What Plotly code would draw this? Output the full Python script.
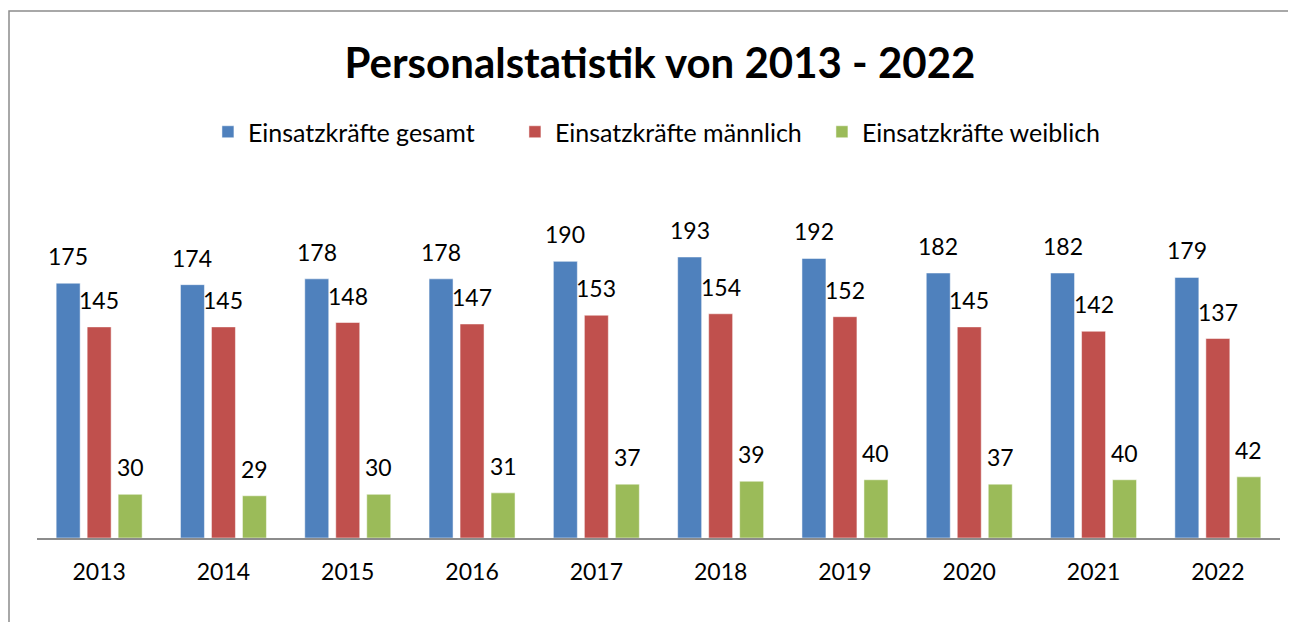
import plotly.graph_objects as go

# Data
years = ["2013", "2014", "2015", "2016", "2017", "2018", "2019", "2020", "2021", "2022"]
gesamt = [175, 174, 178, 178, 190, 193, 192, 182, 182, 179]
maennlich = [145, 145, 148, 147, 153, 154, 152, 145, 142, 137]
weiblich = [30, 29, 30, 31, 37, 39, 40, 37, 40, 42]

series = [
    ("Einsatzkräfte gesamt", gesamt, "#4F81BD"),
    ("Einsatzkräfte männlich", maennlich, "#C0504D"),
    ("Einsatzkräfte weiblich", weiblich, "#9BBB59"),
]

FONT = "Lato, Calibri, sans-serif"
# page body has an 8px margin, so the figure is 16px smaller than the window
W, H = 1280, 614
ML, MR, MT, MB = 29, 8, 166, 84
BARGAP = 0.252

fig = go.Figure()
for name, vals, color in series:
    fig.add_trace(go.Bar(
        x=years, y=vals, name=name,
        marker=dict(color=color, line=dict(color="rgba(255,255,255,0.5)", width=1)),
    ))

# data labels, sitting a bit higher above the bars like in Excel
slot = (1 - BARGAP) / len(series)
for i, (name, vals, color) in enumerate(series):
    for j, v in enumerate(vals):
        fig.add_annotation(x=j + (i - 1) * slot, y=v, xref="x", yref="y",
                           text=str(v), showarrow=False, yanchor="bottom", yshift=11,
                           font=dict(size=23, color="black", family=FONT))

# chart frame (gray border, only left and top edges visible)
pw, ph = W - ML - MR, H - MT - MB
x0 = (1 - ML) / pw
y1 = (H - MB - 3) / ph
fig.add_shape(type="path", xref="paper", yref="paper",
              path=f"M {x0},-0.6 L {x0},{y1} L 1.2,{y1}",
              line=dict(color="#8c8c8c", width=1.5), layer="below")

fig.update_layout(
    width=W, height=H,
    margin=dict(l=ML, r=MR, t=MT, b=MB, autoexpand=False),
    paper_bgcolor="white", plot_bgcolor="white",
    barmode="group", bargap=BARGAP, bargroupgap=0.226,
    title=dict(text="<b>Personalstatistik von 2013 - 2022</b>",
               x=652 / W, xanchor="center", yref="container", y=1 - 55 / H, yanchor="middle",
               font=dict(size=42, color="black", family=FONT)),
    legend=dict(orientation="h", x=0.508, xanchor="center",
                yref="container", y=1 - 124 / H, yanchor="middle",
                font=dict(size=25, color="black", family=FONT),
                entrywidth=262, entrywidthmode="pixels",
                itemwidth=30, traceorder="normal"),
    font=dict(family=FONT, color="black"),
)
fig.update_xaxes(showline=True, linecolor="#8c8c8c", linewidth=1.5, automargin=False,
                 ticks="", ticklabelstandoff=13,
                 tickfont=dict(size=23, family=FONT, color="black"),
                 showgrid=False)
fig.update_yaxes(range=[0, 250], visible=False, showgrid=False, zeroline=False,
                 automargin=False)

fig.write_html("out.html")
